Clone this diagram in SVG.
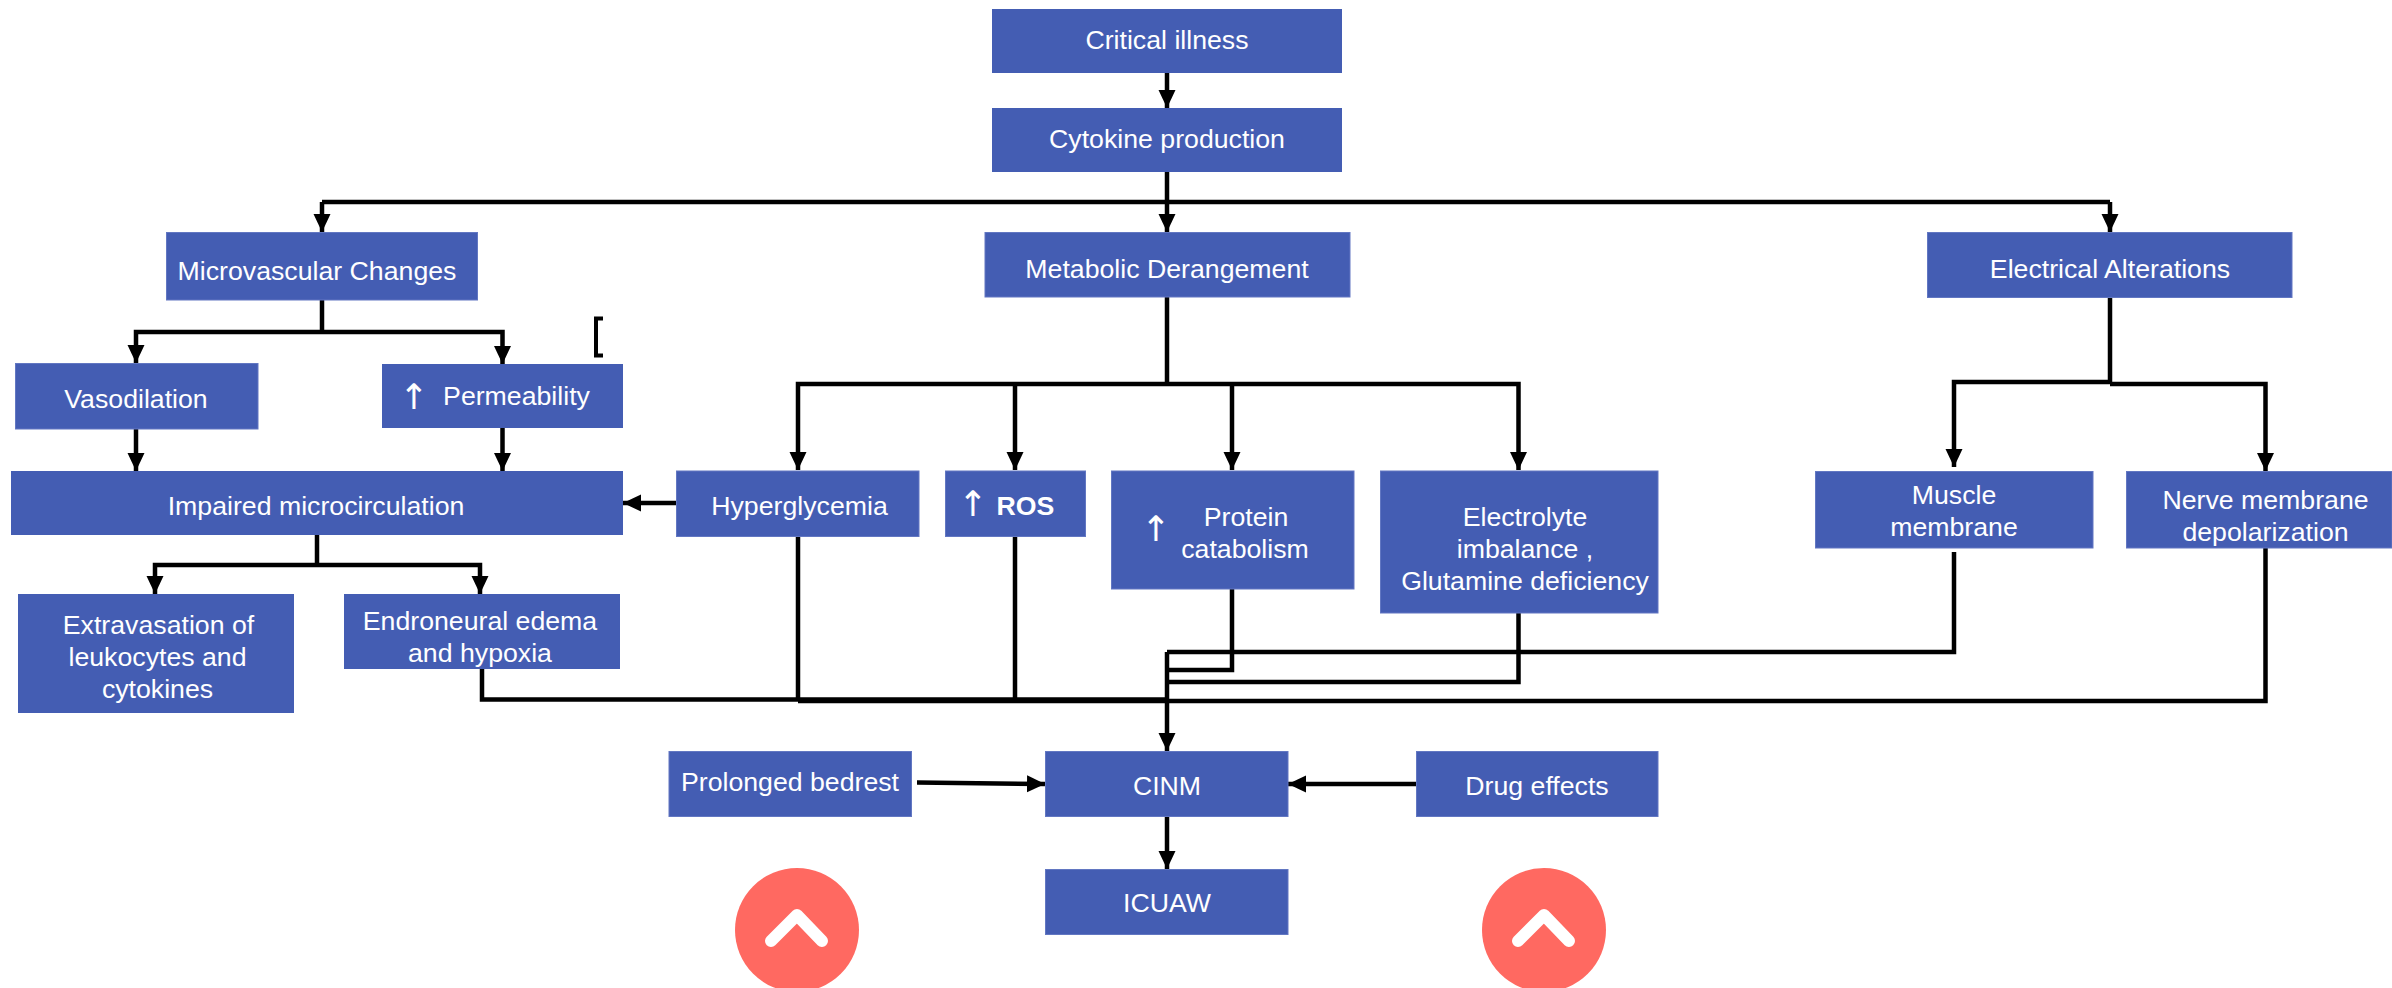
<svg xmlns="http://www.w3.org/2000/svg" width="2392" height="988" viewBox="0 0 2392 988">
<style>
.box{fill:#445DB3}
.edge{stroke:#6277C2;stroke-width:1}
.t{font-family:"Liberation Sans",Arial,sans-serif;font-size:26.7px;fill:#fff;text-anchor:middle}
.a{font-family:"DejaVu Sans",sans-serif;font-size:35px}
.b{font-weight:bold}
.c{fill:none;stroke:#000;stroke-width:4.500}
.h{marker-end:url(#ah)}
.badge{fill:#FF6961}
.chev{fill:none;stroke:#fff;stroke-width:12;stroke-linecap:round;stroke-linejoin:round}
</style>
<defs>
<marker id="ah" markerUnits="userSpaceOnUse" markerWidth="19" markerHeight="19" refX="18" refY="9" orient="auto">
<path d="M0 0.500L18 9L0 17.500Z" fill="#000"/>
</marker>
</defs>
<rect width="2392" height="988" fill="#fff"/>
<g id="connectors">
<path class="c h" d="M1167 73V108"/>
<path class="c h" d="M1167 172V232"/>
<path class="c" d="M322 202H2110"/>
<path class="c h" d="M322 202V232"/>
<path class="c h" d="M2110 202V232"/>
<path class="c" d="M322 300V332"/>
<path class="c h" d="M322 332H136V363"/>
<path class="c h" d="M322 332H502.500V364"/>
<path class="c h" d="M136 429V471"/>
<path class="c h" d="M502.500 428V471"/>
<path class="c h" d="M676 503H623"/>
<path class="c" d="M317 535V565"/>
<path class="c h" d="M317 565H155V594"/>
<path class="c h" d="M317 565H480V594"/>
<path class="c" d="M1167 297V384"/>
<path class="c h" d="M1167 384H798V470"/>
<path class="c h" d="M1015 384V470"/>
<path class="c h" d="M1232 384V470"/>
<path class="c h" d="M1167 384H1518.500V470"/>
<path class="c" d="M2110 297V383"/>
<path class="c h" d="M2110 382H1954V467"/>
<path class="c h" d="M2110 384H2265.500V471"/>
<path class="c" d="M482 669V699.500H1167"/>
<path class="c" d="M798 701H2265.500V548"/>
<path class="c" d="M798 536V701"/>
<path class="c" d="M1015 536V701"/>
<path class="c" d="M1232 589V670H1167"/>
<path class="c" d="M1518.500 613V682H1167"/>
<path class="c" d="M1954 552V652H1167"/>
<path class="c h" d="M1167 652V751"/>
<path class="c h" d="M917 782.500L1045 784"/>
<path class="c h" d="M1416 784H1288"/>
<path class="c h" d="M1167 816V869"/>
<path d="M603 318.500H596V355.500H603" fill="none" stroke="#000" stroke-width="4"/>
</g>
<g id="critical-illness"><rect class="box" x="992" y="9" width="350" height="64"/><text class="t" x="1167" y="49">Critical illness</text></g>
<g id="cytokine-production"><rect class="box" x="992" y="108" width="350" height="64"/><text class="t" x="1167" y="148">Cytokine production</text></g>
<g id="microvascular-changes"><rect class="box edge" x="166.500" y="232.500" width="311" height="67.500"/><text class="t" x="317" y="280">Microvascular Changes</text></g>
<g id="metabolic-derangement"><rect class="box edge" x="985" y="232.500" width="365" height="64.500"/><text class="t" x="1167" y="278">Metabolic Derangement</text></g>
<g id="electrical-alterations"><rect class="box edge" x="1927.500" y="232.500" width="364.500" height="65"/><text class="t" x="2110" y="278">Electrical Alterations</text></g>
<g id="vasodilation"><rect class="box edge" x="15.500" y="363.500" width="242.500" height="65.500"/><text class="t" x="136" y="408">Vasodilation</text></g>
<g id="permeability"><rect class="box" x="382" y="364" width="241" height="64"/><text class="t a" x="414" y="409">↑</text><text class="t" x="516.500" y="405">Permeability</text></g>
<g id="impaired-microcirculation"><rect class="box" x="11" y="471" width="612" height="64"/><text class="t" x="316" y="515">Impaired microcirculation</text></g>
<g id="hyperglycemia"><rect class="box edge" x="676.500" y="471" width="242.500" height="65.500"/><text class="t" x="799.500" y="515">Hyperglycemia</text></g>
<g id="ros"><rect class="box edge" x="945.500" y="471" width="140" height="65.500"/><text class="t a" x="973" y="516">↑</text><text class="t b" x="1025.500" y="515">ROS</text></g>
<g id="protein-catabolism"><rect class="box edge" x="1111.500" y="471" width="242.500" height="118"/><text class="t a" x="1156" y="541">↑</text><text class="t" x="1246" y="526">Protein</text><text class="t" x="1245" y="558">catabolism</text></g>
<g id="electrolyte"><rect class="box edge" x="1380.500" y="471" width="277.500" height="142"/><text class="t" x="1525" y="526">Electrolyte</text><text class="t" x="1525" y="558">imbalance ,</text><text class="t" x="1525" y="590">Glutamine deficiency</text></g>
<g id="muscle-membrane"><rect class="box edge" x="1815.500" y="471.500" width="277.500" height="76.500"/><text class="t" x="1954" y="504">Muscle</text><text class="t" x="1954" y="536">membrane</text></g>
<g id="nerve-membrane"><rect class="box edge" x="2126.500" y="471.500" width="265.500" height="76.500"/><text class="t" x="2265.500" y="509">Nerve membrane</text><text class="t" x="2265.500" y="541">depolarization</text></g>
<g id="extravasation"><rect class="box" x="18" y="594" width="276" height="119"/><text class="t" x="158.500" y="634">Extravasation of</text><text class="t" x="157.500" y="666">leukocytes and</text><text class="t" x="157.500" y="698">cytokines</text></g>
<g id="endroneural"><rect class="box" x="344" y="594" width="276" height="75"/><text class="t" x="480" y="630">Endroneural edema</text><text class="t" x="480" y="662">and hypoxia</text></g>
<g id="prolonged-bedrest"><rect class="box edge" x="669" y="751.500" width="242.500" height="65"/><text class="t" x="790" y="791">Prolonged bedrest</text></g>
<g id="cinm"><rect class="box edge" x="1045.500" y="751.500" width="242.500" height="65"/><text class="t" x="1167" y="795">CINM</text></g>
<g id="drug-effects"><rect class="box edge" x="1416.500" y="751.500" width="241.500" height="65"/><text class="t" x="1537" y="795">Drug effects</text></g>
<g id="icuaw"><rect class="box edge" x="1045.500" y="869.500" width="242.500" height="65"/><text class="t" x="1167" y="912">ICUAW</text></g>
<g id="badge-left"><circle class="badge" cx="797" cy="930" r="62"/><path class="chev" d="M771 941L797 915L822 941"/></g>
<g id="badge-right"><circle class="badge" cx="1544" cy="930" r="62"/><path class="chev" d="M1518 941L1544 915L1569 941"/></g>
</svg>
